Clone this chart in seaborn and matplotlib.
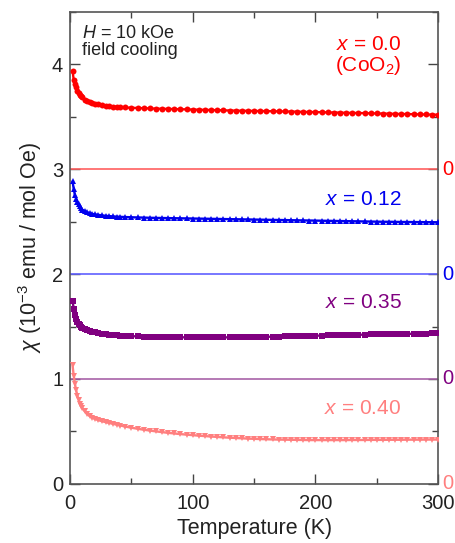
import numpy as np
import pandas as pd
import matplotlib.pyplot as plt
import matplotlib.transforms as mtransforms
from matplotlib.ticker import MultipleLocator
import seaborn as sns

# temperaturas (K)
temp = [2, 3, 4, 5, 6, 7, 8, 9, 10, 12, 14, 16, 18, 20, 23, 26, 29, 32, 35, 38, 41, 45] + list(range(50, 305, 5))

# chi (1e-3 emu/mol Oe), valores leidos sin el desplazamiento vertical
chi_000 = [0.94, 0.85, 0.81, 0.78, 0.75, 0.73, 0.71, 0.695, 0.685, 0.665, 0.65, 0.64, 0.632, 0.625, 0.618, 0.612,
           0.606, 0.602, 0.598, 0.595, 0.592, 0.589,
           0.586, 0.584, 0.582, 0.580, 0.578, 0.577, 0.575, 0.574, 0.572, 0.571,
           0.569, 0.568, 0.566, 0.565, 0.563, 0.562, 0.560, 0.559, 0.558, 0.557,
           0.556, 0.555, 0.554, 0.553, 0.552, 0.551, 0.550, 0.549, 0.547, 0.546,
           0.545, 0.544, 0.542, 0.541, 0.540, 0.538, 0.537, 0.536, 0.535, 0.533,
           0.532, 0.531, 0.530, 0.528, 0.527, 0.526, 0.525, 0.523, 0.522, 0.521, 0.520]
chi_012 = [0.885, 0.81, 0.75, 0.72, 0.69, 0.665, 0.645, 0.63, 0.615, 0.60, 0.59, 0.582, 0.575, 0.57, 0.565, 0.56,
           0.556, 0.553, 0.55, 0.548, 0.546, 0.544,
           0.542, 0.540, 0.539, 0.537, 0.536, 0.535, 0.534, 0.533, 0.532, 0.531,
           0.530, 0.529, 0.528, 0.527, 0.526, 0.525, 0.524, 0.523, 0.522, 0.521,
           0.520, 0.519, 0.518, 0.517, 0.516, 0.515, 0.514, 0.513, 0.512, 0.511,
           0.510, 0.509, 0.508, 0.507, 0.506, 0.505, 0.504, 0.503, 0.502, 0.501,
           0.500, 0.499, 0.499, 0.498, 0.497, 0.497, 0.496, 0.496, 0.495, 0.495, 0.494]
chi_035 = [0.745, 0.67, 0.61, 0.575, 0.545, 0.525, 0.51, 0.50, 0.49, 0.475, 0.465, 0.457, 0.45, 0.445, 0.438, 0.432,
           0.427, 0.423, 0.42, 0.417, 0.414, 0.411,
           0.408, 0.406, 0.404, 0.402, 0.401, 0.400, 0.399, 0.398, 0.397, 0.397,
           0.396, 0.396, 0.396, 0.396, 0.396, 0.396, 0.397, 0.397, 0.398, 0.399,
           0.400, 0.401, 0.402, 0.403, 0.404, 0.406, 0.407, 0.408, 0.410, 0.411,
           0.412, 0.414, 0.415, 0.416, 0.418, 0.419, 0.420, 0.421, 0.423, 0.424,
           0.425, 0.426, 0.427, 0.428, 0.429, 0.430, 0.431, 0.432, 0.433, 0.434, 0.435]
chi_040 = [1.13, 1.03, 0.95, 0.89, 0.84, 0.80, 0.765, 0.74, 0.72, 0.69, 0.665, 0.645, 0.63, 0.62, 0.607, 0.597,
           0.588, 0.58, 0.572, 0.564, 0.556, 0.546,
           0.535, 0.525, 0.516, 0.508, 0.500, 0.493, 0.486, 0.480, 0.474, 0.469,
           0.464, 0.459, 0.455, 0.451, 0.447, 0.443, 0.440, 0.437, 0.434, 0.431,
           0.429, 0.427, 0.425, 0.423, 0.422, 0.421, 0.420, 0.419, 0.418, 0.417,
           0.417, 0.417, 0.417, 0.417, 0.417, 0.417, 0.418, 0.418, 0.418, 0.419,
           0.419, 0.419, 0.420, 0.420, 0.420, 0.421, 0.421, 0.421, 0.422, 0.422, 0.422]

etiquetas = ['$x$ = 0.0\n(CoO$_2$)', '$x$ = 0.12', '$x$ = 0.35', '$x$ = 0.40']
desplazamientos = [3, 2, 1, 0]
colores = ['#ff0000', '#0000ee', '#800080', '#ff7f7f']
colores_cero = ['#ff6060', '#6060ff', '#a862a8', '#ff7f7f']
marcadores = ['o', '^', 's', 'v']
series = [chi_000, chi_012, chi_035, chi_040]

sns.set_theme(style='ticks')
plt.rcParams['font.family'] = ['Liberation Sans', 'DejaVu Sans']
plt.rcParams['mathtext.fontset'] = 'custom'
plt.rcParams['mathtext.rm'] = 'Liberation Sans'
plt.rcParams['mathtext.it'] = 'Liberation Sans:italic'

fig = plt.figure(figsize=(4.55, 5.43), dpi=100)
ax = fig.add_axes([0.154, 0.109, 0.809, 0.869])

for chi, off, col, colz, mk in zip(series, desplazamientos, colores, colores_cero, marcadores):
    df = pd.DataFrame({'T': temp, 'chi': np.array(chi) + off})
    if off > 0:
        ax.axhline(off, color=colz, lw=1.2, zorder=1)
    sns.lineplot(data=df, x='T', y='chi', ax=ax, color=col, marker=mk, markersize=4.3,
                 markeredgewidth=0, lw=1.7, zorder=3)

ax.set_xlim(0, 300)
ax.set_ylim(0, 4.5)
ax.xaxis.set_major_locator(MultipleLocator(100))
ax.xaxis.set_minor_locator(MultipleLocator(50))
ax.yaxis.set_major_locator(MultipleLocator(1))
ax.yaxis.set_minor_locator(MultipleLocator(0.5))
ax.tick_params(which='both', direction='in', top=True, right=True, color='#444444',
               labelsize=14.5, labelcolor='#222222', pad=5)
ax.tick_params(axis='x', which='major', pad=7)
ax.tick_params(which='major', length=7, width=1)
ax.tick_params(which='minor', length=4, width=1)
for s in ax.spines.values():
    s.set_color('#555555')
    s.set_linewidth(1.2)

ax.set_xlabel('Temperature (K)', fontsize=15.5, color='#222222', labelpad=4)
ax.set_ylabel(r'$\chi$ (10$^{-3}$ emu / mol Oe)', fontsize=15.5, color='#222222', labelpad=6)

# ceros de cada curva a la derecha
trans = mtransforms.blended_transform_factory(ax.transAxes, ax.transData)
for off, col in zip(desplazamientos, colores):
    ax.text(1.012, off, '0', transform=trans, color=col, fontsize=14.5, ha='left', va='center')

# etiquetas de composicion
pos_y = [4.08, 2.71, 1.73, 0.72]
for lab, y, col in zip(etiquetas, pos_y, colores):
    ax.text(270, y, lab, color=col, fontsize=15, ha='right', va='center', linespacing=1.05)

ax.text(0.033, 0.972, '$H$ = 10 kOe\nfield cooling', transform=ax.transAxes, fontsize=13,
        color='#222222', ha='left', va='top', linespacing=1.0)

plt.savefig('out.png', dpi=100)
